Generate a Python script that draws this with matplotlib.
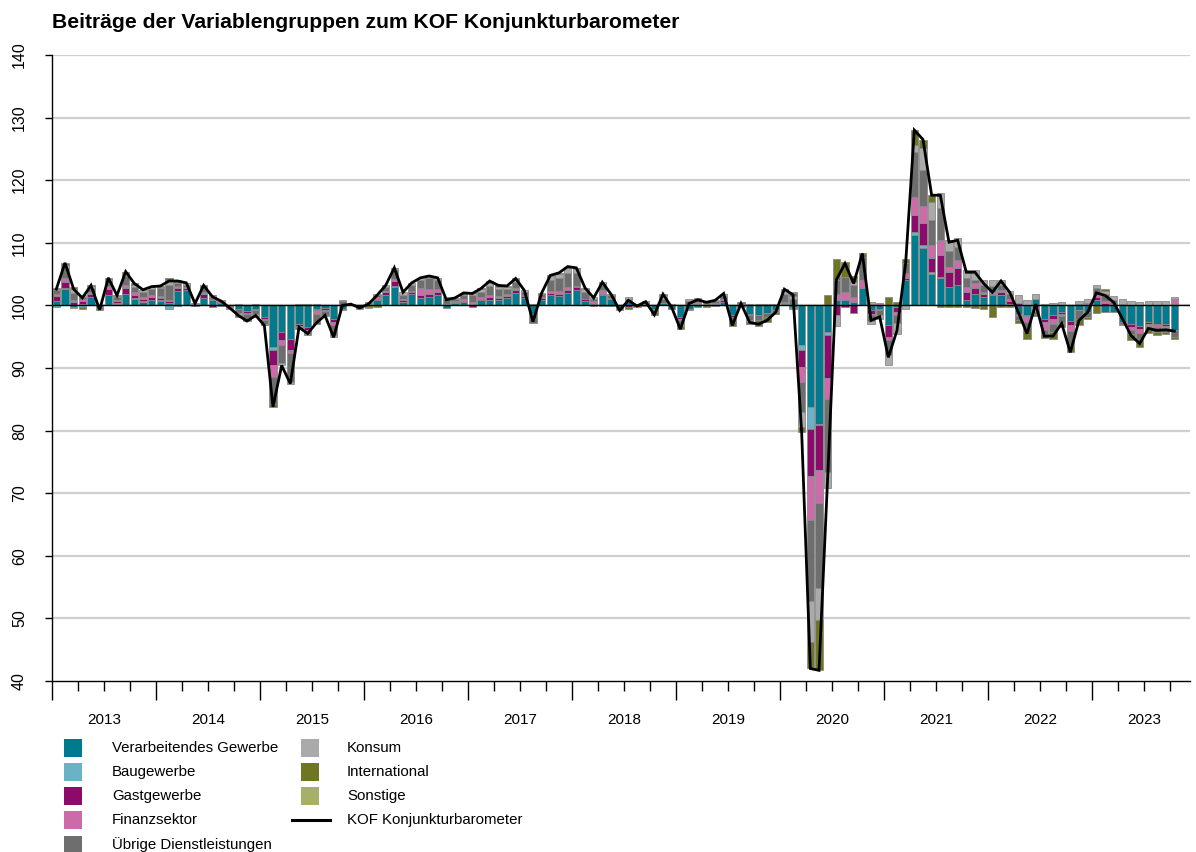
import matplotlib
matplotlib.use('Agg')
import matplotlib.pyplot as plt
import matplotlib.patches as mpatches
import matplotlib.transforms as mtransforms
import numpy as np

# Monthly values, Jan 2013 .. Oct 2023
first_year = 2013

kof = [
	102.6, 106.8, 102.6, 101.2, 103.2, 99.3, 104.4, 101.6, 105.4, 103.5, 102.5, 103.0,
	103.1, 103.9, 103.9, 103.6, 100.3, 103.2, 101.4, 100.7, 99.6, 98.4, 97.5, 98.4,
	96.8, 83.8, 90.4, 87.5, 96.5, 95.5, 97.2, 98.4, 94.9, 100.0, 100.2, 99.6,
	100.2, 101.6, 103.2, 106.0, 102.1, 103.6, 104.4, 104.7, 104.4, 100.9, 101.2, 102.0,
	101.9, 102.7, 103.9, 103.2, 103.1, 104.3, 102.4, 97.4, 102.0, 104.8, 105.2, 106.2,
	106.0, 102.8, 101.2, 103.7, 101.8, 99.2, 100.8, 99.9, 100.6, 98.5, 101.8, 99.7,
	96.2, 100.3, 100.9, 100.5, 100.8, 101.9, 96.8, 100.3, 97.3, 97.0, 97.6, 98.9,
	102.6, 101.7, 79.7, 42.0, 41.7, 72.5, 104.1, 106.7, 103.5, 108.3, 97.6, 98.2,
	91.7, 96.0, 106.8, 128.0, 126.5, 117.6, 117.6, 110.1, 110.4, 105.3, 105.3, 103.5,
	102.1, 103.9, 102.1, 98.9, 95.5, 100.2, 95.1, 95.1, 97.1, 92.5, 97.6, 98.9,
	102.0, 101.6, 100.5, 97.9, 95.2, 93.9, 96.3, 96.0, 96.1, 95.9,
]

verarbeitendes = [
	0.7, 2.6, -0.3, 0.3, 1.3, -0.2, 1.6, 0.3, 1.8, 1.1, 0.6, 0.8,
	0.7, 0.4, 2.3, 2.4, -0.1, 1.2, 0.8, 0.4, -0.1, -0.5, -0.9, -0.6,
	-1.8, -6.6, -4.3, -5.3, -2.9, -3.5, -0.6, -0.4, -2.1, -0.6, 0.1, -0.3,
	0.1, 0.9, 1.7, 3.0, 0.6, 1.8, 1.2, 1.4, 1.6, -0.4, 0.4, 0.5,
	0.3, 0.8, 0.9, 0.8, 1.2, 2.0, 1.2, -1.3, 0.9, 1.6, 1.5, 2.0,
	2.5, 0.7, 0.3, 1.6, 1.0, -0.3, 0.6, 0.1, 0.3, -0.6, 0.4, -0.5,
	-1.8, -0.6, -0.3, 0.0, -0.1, 0.6, -1.5, -0.3, -1.4, -1.6, -1.2, -0.8,
	0.2, -0.2, -6.4, -16.2, -18.9, -4.3, 0.8, 0.8, 0.6, 2.8, -0.8, -0.5,
	-3.2, -0.3, 4.0, 11.2, 9.1, 5.0, 4.3, 2.9, 3.2, 0.8, 1.9, 1.4,
	1.6, 1.7, 0.3, -1.4, -1.5, 1.1, -2.2, -1.6, -1.0, -2.5, -0.8, -1.0,
	0.8, -1.0, -1.0, -2.6, -3.0, -3.3, -2.7, -2.9, -3.0, -4.0,
]

baugewerbe = [
	-0.2, 0.1, -0.1, -0.2, 0.1, -0.1, 0.1, 0.1, 0.1, 0.1, 0.1, 0.1,
	0.1, -0.5, -0.1, 0.0, 0.0, 0.0, 0.0, -0.1, 0.0, -0.1, 0.0, 0.0,
	0.0, -0.5, 0.0, 0.0, 0.0, 0.0, 0.0, 0.0, 0.0, 0.0, 0.0, 0.0,
	0.0, 0.0, 0.0, 0.1, 0.0, 0.0, 0.0, 0.0, 0.0, 0.0, 0.0, 0.0,
	0.0, 0.0, 0.0, 0.0, 0.0, 0.0, 0.0, 0.0, 0.0, 0.0, 0.0, 0.0,
	0.0, 0.0, 0.0, 0.0, 0.0, 0.0, 0.0, 0.0, 0.0, 0.0, 0.0, 0.0,
	-0.1, 0.0, 0.0, 0.0, 0.0, 0.0, 0.0, 0.0, 0.0, 0.0, 0.0, 0.0,
	0.0, 0.0, -0.8, -3.5, -0.2, -0.4, 0.1, 0.1, 0.1, 0.1, 0.0, 0.0,
	0.0, 0.0, 0.1, 0.5, 0.5, 0.4, 0.3, 0.1, 0.1, 0.1, 0.0, 0.0,
	0.0, 0.0, 0.0, 0.0, 0.0, 0.0, 0.0, 0.0, 0.0, 0.0, 0.0, 0.0,
	0.0, 0.0, 0.0, 0.0, 0.0, 0.0, 0.0, 0.0, 0.0, 0.0,
]

gastgewerbe = [
	0.8, 1.0, 0.5, 0.4, 0.5, 0.1, 0.9, 0.3, 0.8, 0.5, 0.4, 0.4,
	0.4, 0.3, 0.5, 0.4, 0.1, 0.6, -0.3, 0.1, 0.1, 0.1, -0.3, -0.2,
	-0.3, -2.4, -1.3, -1.8, -0.4, -0.4, -0.2, -0.3, -0.5, 0.1, 0.0, -0.1,
	0.1, 0.2, 0.4, 0.8, 0.3, 0.3, 0.5, 0.4, 0.5, 0.1, 0.1, 0.2,
	-0.3, 0.3, 0.4, 0.4, 0.3, 0.4, 0.3, 0.0, 0.3, 0.4, 0.4, 0.5,
	0.4, 0.3, 0.1, 0.3, 0.1, 0.0, -0.2, 0.0, 0.1, -0.1, 0.0, 0.0,
	-0.3, 0.2, 0.3, 0.2, 0.2, 0.2, -0.3, 0.2, -0.2, 0.1, 0.1, 0.1,
	0.2, -0.2, -2.7, -7.5, -7.2, -6.9, -1.5, -0.3, -1.2, 0.0, -0.5, -0.3,
	-1.9, -0.8, 0.3, 2.7, 3.5, 2.1, 3.5, 2.4, 2.6, 1.3, 0.8, 0.4,
	0.3, 0.4, 0.4, 0.4, -0.2, -0.3, -0.5, -0.6, -0.4, -0.7, 0.1, 0.2,
	0.6, 0.4, 0.2, 0.1, -0.5, -0.5, -0.3, -0.3, -0.3, 0.2,
]

finanzsektor = [
	0.4, 0.7, 0.3, 0.3, 0.3, 0.0, 0.5, 0.2, 0.5, 0.4, 0.2, 0.3,
	0.3, 0.2, 0.3, 0.2, 0.0, 0.4, 0.2, 0.0, -0.1, 0.1, -0.2, 0.2,
	-0.3, -1.9, -0.8, -0.5, -0.2, -0.3, -0.6, -0.2, -0.6, 0.2, 0.0, 0.0,
	0.2, 0.2, 0.2, 0.3, 0.1, 0.2, 1.0, 0.8, 0.5, 0.2, 0.2, 0.3,
	0.3, 0.2, 0.3, 0.3, 0.3, 0.4, 0.2, 0.2, 0.1, 0.3, 0.4, 0.4,
	0.2, 0.1, 0.3, 0.5, 0.1, 0.0, 0.1, 0.0, 0.0, 0.0, 0.0, 0.1,
	-0.2, 0.1, 0.2, 0.1, 0.2, 0.2, 0.1, 0.1, 0.2, 0.2, 0.2, 0.1,
	0.1, -0.1, -2.4, -7.1, -5.3, -3.3, 0.9, 1.3, 0.7, 1.1, -0.3, 0.4,
	-0.5, -0.5, 0.8, 2.9, 2.7, 2.1, 2.4, 0.8, 1.3, 0.8, 0.8, 0.4,
	0.2, 0.4, 0.3, -0.3, -0.9, -0.6, -1.2, -0.8, -0.3, -0.9, 0.2, 0.2,
	0.5, 0.3, 0.1, 0.1, -0.4, -0.6, -0.3, -0.2, -0.3, 0.8,
]

uebrige_dl = [
	0.5, 1.6, 1.2, 0.4, 0.6, -0.3, 0.8, 0.4, 1.5, 0.9, 0.8, 1.0,
	1.2, 2.4, 0.4, 0.3, 0.2, 0.6, 0.4, 0.2, -0.2, -0.6, -0.7, -0.6,
	-0.5, -4.3, -2.8, -4.6, -0.3, -0.4, -1.3, -0.6, -1.6, 0.4, 0.1, 0.1,
	0.1, 0.4, 0.7, 1.4, 0.7, 1.0, 1.3, 1.7, 1.4, 0.7, 0.3, 0.6,
	1.0, 0.9, 1.5, 1.1, 0.8, 1.0, 0.5, -1.5, 0.5, 1.8, 2.0, 2.2,
	2.0, 1.1, 0.4, 0.8, 0.4, -0.1, 0.3, 0.0, 0.2, -0.3, 0.6, 0.1,
	-0.6, 0.4, 0.4, 0.3, 0.3, 0.5, -0.8, 0.2, -0.8, -0.7, -0.6, -0.3,
	1.3, 1.1, -4.8, -13.0, -13.6, -11.7, 2.3, 2.4, 1.9, 3.7, -0.9, -0.8,
	-2.3, -1.2, 1.6, 7.2, 5.9, 4.0, 5.0, 2.5, 2.1, 1.3, 0.6, 1.0,
	1.0, 0.7, 0.8, -0.6, -1.0, -0.4, -0.6, -1.2, -1.1, -2.2, -1.3, -0.8,
	0.8, 1.1, 0.6, -0.4, -0.6, -1.0, -0.6, -0.9, -0.6, -1.0,
]

konsum = [
	0.2, 0.5, 0.6, 0.3, 0.3, 0.0, 0.3, 0.2, 0.4, 0.3, 0.3, 0.3,
	0.3, 0.8, 0.3, 0.2, 0.1, 0.2, 0.2, 0.1, 0.0, -0.4, -0.3, -0.3,
	-0.2, 0.0, -0.4, -0.3, 0.3, 0.3, 0.2, 0.1, -0.3, 0.1, 0.0, 0.0,
	0.1, 0.1, 0.2, 0.3, 0.4, 0.3, 0.4, 0.4, 0.4, 0.3, 0.2, 0.3,
	0.4, 0.4, 0.5, 0.4, 0.4, 0.3, 0.2, 0.0, 0.2, 0.6, 0.7, 0.9,
	0.7, 0.4, 0.2, 0.6, 0.3, 0.0, 0.3, 0.1, 0.1, -0.1, 0.6, 0.1,
	-0.3, 0.3, 0.1, 0.1, 0.2, 0.3, 0.0, 0.1, -0.3, -0.1, 0.0, 0.0,
	0.8, 0.4, -2.4, -6.5, -5.1, -2.5, -1.8, 0.0, 0.5, 0.0, -0.4, -0.6,
	-1.7, -1.7, -0.6, 1.1, 3.5, 2.9, 2.4, 1.7, 1.4, 1.3, 1.6, 0.8,
	0.9, 0.9, 0.5, 1.3, 0.8, 0.8, 0.3, 0.4, 0.5, -0.2, 0.4, 0.6,
	0.5, 0.5, 0.6, 0.8, 0.7, 0.6, 0.7, 0.7, 0.7, 0.3,
]

international = [
	0.2, 0.3, 0.3, -0.3, 0.1, -0.2, 0.2, 0.1, 0.3, 0.2, 0.1, 0.1,
	0.1, 0.2, 0.2, 0.1, 0.0, 0.2, 0.1, 0.0, -0.1, -0.2, -0.1, -0.1,
	-0.1, -0.5, 0.0, 0.0, 0.0, -0.2, -0.3, -0.2, 0.0, -0.2, 0.0, -0.1,
	-0.3, -0.2, 0.0, 0.1, 0.0, 0.0, 0.0, 0.0, 0.0, 0.0, 0.0, 0.1,
	0.2, 0.1, 0.3, 0.2, 0.1, 0.2, 0.0, 0.0, 0.0, 0.1, 0.2, 0.2,
	0.2, 0.2, -0.1, -0.1, -0.1, -0.4, -0.3, -0.3, -0.1, -0.4, 0.2, -0.1,
	-0.5, -0.1, 0.2, -0.2, 0.0, 0.1, -0.7, 0.0, -0.2, -0.9, -0.9, -0.2,
	0.0, 0.5, -0.8, -4.2, -8.0, 1.6, 3.3, 2.4, 0.9, 0.6, 0.3, 0.0,
	1.3, 0.5, 0.6, 2.4, 1.3, 1.1, -0.3, -0.3, -0.3, -0.3, -0.4, -0.5,
	-1.9, -0.2, -0.2, -0.5, -1.7, -0.4, -0.7, -1.1, -0.6, -1.0, -1.0, -0.3,
	-1.2, 0.3, 0.0, -0.1, -1.0, -1.3, -0.5, -0.4, -0.4, -0.4,
]

sonstige = [
	0.0, 0.0, 0.1, 0.0, 0.0, 0.0, 0.0, 0.0, 0.0, 0.0, 0.0, 0.0,
	0.0, 0.1, 0.0, 0.0, 0.0, 0.0, 0.0, 0.0, 0.0, 0.0, 0.0, 0.0,
	0.0, 0.0, 0.0, 0.0, 0.0, 0.0, 0.0, 0.0, 0.0, 0.0, 0.0, 0.0,
	-0.1, 0.0, 0.0, 0.0, 0.0, 0.0, 0.0, 0.0, 0.0, 0.0, 0.0, 0.0,
	0.0, 0.0, 0.0, 0.0, 0.0, 0.0, 0.0, 0.0, 0.0, 0.0, 0.0, 0.0,
	0.0, 0.0, 0.0, 0.0, 0.0, 0.0, 0.0, 0.0, 0.0, 0.0, 0.0, 0.0,
	0.0, 0.0, 0.0, 0.0, 0.0, 0.0, 0.0, 0.0, 0.0, 0.0, 0.0, 0.0,
	0.0, 0.2, 0.0, 0.0, 0.0, 0.0, 0.0, 0.0, 0.0, 0.0, 0.2, 0.0,
	0.0, 0.0, 0.0, 0.0, 0.0, 0.0, 0.0, 0.0, 0.0, 0.0, 0.0, 0.0,
	0.0, 0.0, 0.0, 0.0, 0.0, 0.0, 0.0, 0.0, 0.0, 0.0, 0.0, 0.0,
	0.0, 0.0, 0.0, 0.0, 0.0, 0.0, 0.0, 0.0, 0.0, 0.0,
]

group_names = ['Verarbeitendes Gewerbe', 'Baugewerbe', 'Gastgewerbe', 'Finanzsektor',
	'Übrige Dienstleistungen', 'Konsum', 'International', 'Sonstige']
group_colors = ['#007a8f', '#6ab2c5', '#8c0a6a', '#cc6aaa',
	'#6e6e6e', '#aaaaaa', '#6e7622', '#a8b068']
line_name = 'KOF Konjunkturbarometer'
year_labels = [str(y) for y in range(2013, 2024)]

W, H = 1196, 852

def fx(px):
	return px / W

def fy(py):
	return 1 - py / H

def main():
	plt.rcParams['font.family'] = ['Liberation Sans', 'DejaVu Sans']
	fig = plt.figure(figsize = (W / 100, H / 100), dpi = 100)
	ax = fig.add_axes([fx(52), fy(681), fx(1190) - fx(52), fy(55) - fy(681)])

	groups = np.array([verarbeitendes, baugewerbe, gastgewerbe, finanzsektor,
		uebrige_dl, konsum, international, sonstige])
	n = len(kof)
	x = first_year + (np.arange(n) + 0.5) / 12.0
	width = 0.83 / 12.0

	# positive parts stack upwards from 100, negative parts downwards
	pos = np.clip(groups, 0, None)
	neg = np.clip(groups, None, 0)
	pos_bottom = 100 + np.cumsum(pos, axis = 0) - pos
	neg_bottom = 100 + np.cumsum(neg, axis = 0) - neg

	# grid
	for v in range(50, 141, 10):
		ax.axhline(v, color = '#cfcfcf', linewidth = 1.6, zorder = 0)

	for k in range(len(group_names)):
		hp = np.where(pos[k] > 0, pos[k], np.nan)
		hn = np.where(neg[k] < 0, neg[k], np.nan)
		ax.bar(x, hp, bottom = pos_bottom[k], width = width, color = group_colors[k],
			edgecolor = '#8a8a8a', linewidth = 0.6, zorder = 2)
		ax.bar(x, hn, bottom = neg_bottom[k], width = width, color = group_colors[k],
			edgecolor = '#8a8a8a', linewidth = 0.6, zorder = 2)

	ax.axhline(100, color = 'black', linewidth = 1.0, zorder = 3)
	ax.plot(x, kof, color = 'black', linewidth = 2.0, zorder = 4, solid_joinstyle = 'miter')

	ax.set_ylim(40, 140)
	ax.set_xlim(first_year, first_year + (1190 - 52) / 104.0)

	for s in ['top', 'right']:
		ax.spines[s].set_visible(False)
	ax.spines['left'].set_linewidth(1.0)
	ax.spines['bottom'].set_linewidth(1.0)

	ax.set_yticks(range(40, 141, 10))
	ax.set_yticklabels([str(v) for v in range(40, 141, 10)], rotation = 90, va = 'center', fontsize = 11.5)
	ax.tick_params(axis = 'y', length = 5, width = 1.0, pad = 13)

	years = np.arange(2013, 2024)
	ax.set_xticks(years)
	ax.set_xticklabels([])
	ax.set_xticks([y + q / 4.0 for y in years for q in (1, 2, 3)], minor = True)
	ax.tick_params(axis = 'x', which = 'major', length = 14, width = 1.0)
	ax.tick_params(axis = 'x', which = 'minor', length = 7, width = 1.0)

	trans = mtransforms.blended_transform_factory(ax.transData, fig.transFigure)
	for y, lab in zip(years, year_labels):
		ax.text(y + 0.5, fy(720), lab, transform = trans, ha = 'center', va = 'center', fontsize = 11)

	fig.text(fx(52), fy(22), 'Beiträge der Variablengruppen zum KOF Konjunkturbarometer',
		fontsize = 15.2, fontweight = 'bold', ha = 'left', va = 'center')

	# legend, two columns
	rows = [748, 772, 796, 820, 845]
	sq = 18
	entries = list(zip(group_names, group_colors))
	for j, (name, col) in enumerate(entries):
		if j < 5:
			cx, tx, ry = 73, 112, rows[j]
		else:
			cx, tx, ry = 310, 347, rows[j - 5]
		fig.add_artist(mpatches.Rectangle((fx(cx - sq / 2), fy(ry + sq / 2)), sq / W, sq / H,
			transform = fig.transFigure, facecolor = col, edgecolor = 'none'))
		fig.text(fx(tx), fy(ry), name, fontsize = 10.8, ha = 'left', va = 'center')
	fig.add_artist(plt.Line2D([fx(292), fx(330)], [fy(rows[3]), fy(rows[3])],
		transform = fig.transFigure, color = 'black', linewidth = 2.2))
	fig.text(fx(347), fy(rows[3]), line_name, fontsize = 10.8, ha = 'left', va = 'center')

	fig.savefig('out.png', dpi = 100)
	plt.close(fig)

if __name__ == '__main__':
	main()
